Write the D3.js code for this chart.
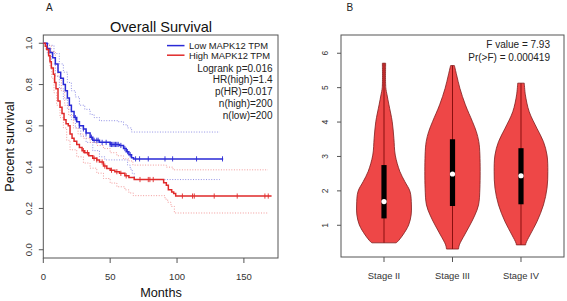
<!DOCTYPE html>
<html lang="en">
<head>
<meta charset="UTF-8" />
<title>MAPK12 survival and stage violins</title>
<script src="https://d3js.org/d3.v7.min.js"></script>
<style>
  body { margin: 0; background: #fff; }
  svg { display: block; font-family: "Liberation Sans", Arial, sans-serif; }
  .tick-label { fill: #333; }
  .frame { fill: none; stroke: #555; stroke-width: 1; }
  .tick { stroke: #555; stroke-width: 1; }
</style>
</head>
<body>
<div id="chart"></div>
<script>
// ---------- Panel A data (months, survival) ----------
const lowSurv = [[0,1],[3,0.975],[5,0.955],[7,0.93],[9,0.9],[11,0.86],[13,0.83],[15,0.8],[16.5,0.77],
  [18,0.735],[19.5,0.7],[21,0.67],[23,0.64],[25,0.62],[27,0.6],[30,0.585],[32,0.565],[35,0.545],
  [37,0.53],[42,0.52],[50,0.51],[57,0.505],[60,0.49],[62,0.475],[64,0.46],[66,0.445],[67.5,0.44],[134.5,0.44]];
const lowCensor = [24,27,30,32,36,38,40,41,44,47,50,51,52,53,54,55,56,58,61,63,65,69,72,78.5,91,96.7,114.6,134];
const lowUpper = [[0,1],[4,0.99],[8,0.95],[12,0.9],[15,0.86],[18,0.81],[21,0.77],[24,0.74],[27,0.7],[31,0.68],
  [35,0.655],[38,0.64],[42,0.625],[56,0.62],[60,0.605],[63,0.59],[66,0.57],[132,0.57]];
const lowLower = [[0,1],[3,0.95],[6,0.9],[9,0.84],[12,0.78],[15,0.73],[18,0.68],[21,0.63],[24,0.59],[28,0.55],
  [32,0.52],[37,0.48],[42,0.45],[46,0.435],[61,0.435],[63,0.41],[65,0.39],[66.5,0.37],[68,0.34],[132,0.34]];

const highSurv = [[0,1],[1.5,0.985],[2.5,0.97],[4,0.94],[5,0.91],[6,0.88],[7.5,0.85],[8.5,0.81],[9.5,0.78],
  [11,0.72],[12.5,0.69],[14,0.66],[15.5,0.63],[17,0.61],[18.7,0.6],[20,0.56],[21.5,0.54],[23,0.525],[25,0.51],
  [27,0.495],[29,0.48],[31,0.47],[34,0.455],[37,0.443],[40,0.435],[42,0.425],[45,0.405],[47.5,0.394],[50,0.385],
  [53.5,0.378],[57,0.37],[61,0.358],[64,0.35],[68,0.34],[88.5,0.34],[90,0.325],[92,0.312],[93.5,0.29],[96,0.28],
  [97.5,0.272],[99,0.26],[170.7,0.26]];
const highCensor = [30,33,38,40,44,46,51,55,58,62,72.3,78.5,79.7,82.2,104,111.6,112.9,127.8,145,165.7,168.2];
const highUpper = [[0,1],[3,0.99],[6,0.96],[9,0.9],[11,0.84],[13.5,0.77],[16,0.7],[19,0.65],[22.5,0.59],[26,0.56],
  [30,0.54],[35,0.52],[40,0.505],[45,0.49],[50,0.47],[55,0.455],[60,0.44],[64,0.43],[67,0.41],[88.5,0.41],
  [92,0.4],[97,0.387],[168,0.387]];
const highLower = [[0,1],[2,0.97],[3.7,0.945],[5,0.89],[6.3,0.83],[8,0.76],[10,0.7],[12.5,0.64],[15,0.59],
  [17.5,0.53],[20,0.484],[25,0.45],[30,0.42],[35,0.395],[40,0.371],[45,0.345],[50,0.323],[55,0.305],[61,0.29],
  [64,0.275],[67.3,0.262],[88.5,0.262],[91,0.245],[93,0.23],[95.5,0.21],[98,0.178],[168,0.174]];

const monthTicks = [0, 50, 100, 150];
const survTicks = [0, 0.2, 0.4, 0.6, 0.8, 1.0];
const legendLabels = ["Low MAPK12 TPM", "High MAPK12 TPM"];
const statLines = ["Logrank p=0.016", "HR(high)=1.4", "p(HR)=0.017", "n(high)=200", "n(low)=200"];

// ---------- Panel B data ----------
const stages = ["Stage II", "Stage III", "Stage IV"];
// density profiles: [expression, relative half-width]
const stage2Profile = [[0.49,0.44],[0.52,0.49],[0.72,0.69],[1.01,0.9],[1.3,0.99],[1.59,1.0],[1.98,0.95],
  [2.27,0.76],[2.56,0.58],[3.04,0.41],[3.53,0.36],[4.01,0.3],[4.5,0.18],[4.79,0.11],[5.0,0.065],[5.71,0.06]];
const stage3Profile = [[0.31,0.22],[0.43,0.25],[0.72,0.44],[1.01,0.64],[1.3,0.82],[1.59,0.95],[2.08,1.0],
  [3.04,1.0],[3.43,0.96],[3.72,0.87],[4.01,0.73],[4.5,0.47],[4.98,0.27],[5.37,0.15],[5.64,0.07]];
const stage4Profile = [[0.43,0.17],[0.48,0.18],[0.72,0.33],[1.1,0.58],[1.59,0.82],[2.08,0.95],[2.56,0.98],
  [3.04,0.95],[3.43,0.82],[3.82,0.58],[4.3,0.3],[4.79,0.16],[5.13,0.12]];
const stageQ1 = [1.2, 1.56, 1.61];
const stageMedian = [1.69, 2.49, 2.44];
const stageQ3 = [2.75, 3.5, 3.24];
const exprTicks = [1, 2, 3, 4, 5, 6];
const anovaLines = ["F value = 7.93", "Pr(>F) = 0.000419"];

const W = 567, H = 301;
const svg = d3.select("#chart").append("svg").attr("width", W).attr("height", H);

// ================= Panel A =================
const A = { left: 43.3, right: 278, top: 35, bottom: 258 };
const x = d3.scaleLinear().domain([0, 175.5]).range([A.left, A.right]);
const y = d3.scaleLinear().domain([-0.04, 1.04]).range([A.bottom, A.top]);

const gA = svg.append("g");
gA.append("text").attr("x", 46).attr("y", 10.5).attr("font-size", 10).attr("fill", "#222").text("A");
gA.append("text").attr("x", 161).attr("y", 31.5).attr("text-anchor", "middle")
  .attr("font-size", 14.6).attr("fill", "#111").text("Overall Survival");

gA.append("rect").attr("class", "frame")
  .attr("x", A.left).attr("y", A.top).attr("width", A.right - A.left).attr("height", A.bottom - A.top);

// axes
gA.selectAll(".xt").data(monthTicks).enter().append("line").attr("class", "tick")
  .attr("x1", d => x(d)).attr("x2", d => x(d)).attr("y1", A.bottom).attr("y2", A.bottom + 5);
gA.selectAll(".xl").data(monthTicks).enter().append("text").attr("class", "tick-label")
  .attr("x", d => x(d)).attr("y", 280).attr("text-anchor", "middle").attr("font-size", 9.5).text(d => d);
gA.selectAll(".yt").data(survTicks).enter().append("line").attr("class", "tick")
  .attr("x1", A.left - 4.5).attr("x2", A.left).attr("y1", d => y(d)).attr("y2", d => y(d));
gA.selectAll(".yl").data(survTicks).enter().append("text").attr("class", "tick-label")
  .attr("transform", d => `translate(31.5,${y(d)}) rotate(-90)`)
  .attr("text-anchor", "middle").attr("font-size", 9.5).text(d => d3.format(".1f")(d));
gA.append("text").attr("x", 161).attr("y", 297).attr("text-anchor", "middle")
  .attr("font-size", 12.7).attr("fill", "#111").text("Months");
gA.append("text").attr("transform", `translate(13.5,${(A.top + A.bottom) / 2}) rotate(-90)`)
  .attr("text-anchor", "middle").attr("font-size", 12.7).attr("fill", "#111").text("Percent survival");

const step = d3.line().curve(d3.curveStepAfter).x(d => x(d[0])).y(d => y(d[1]));
const survAt = (curve, t) => {
  const i = d3.bisector(d => d[0]).right(curve, t) - 1;
  return curve[Math.max(0, i)][1];
};

const groups = [
  { surv: lowSurv, up: lowUpper, lo: lowLower, cens: lowCensor, color: "#2a2ad6", ci: "#8686e2" },
  { surv: highSurv, up: highUpper, lo: highLower, cens: highCensor, color: "#e02a2a", ci: "#f09090" }
];
groups.forEach(g => {
  [g.up, g.lo].forEach(c => gA.append("path").attr("d", step(c)).attr("fill", "none")
    .attr("stroke", g.ci).attr("stroke-width", 0.9).attr("stroke-dasharray", "1,1.6"));
});
groups.forEach(g => {
  gA.append("path").attr("d", step(g.surv)).attr("fill", "none")
    .attr("stroke", g.color).attr("stroke-width", 1.5);
  gA.selectAll(null).data(g.cens).enter().append("line")
    .attr("x1", d => x(d)).attr("x2", d => x(d))
    .attr("y1", d => y(survAt(g.surv, d)) - 2.6).attr("y2", d => y(survAt(g.surv, d)) + 2.6)
    .attr("stroke", g.color).attr("stroke-width", 0.9);
});

// legend
legendLabels.forEach((t, i) => {
  const ly = 45.6 + i * 9.6;
  gA.append("line").attr("x1", 167).attr("x2", 184.5).attr("y1", ly).attr("y2", ly)
    .attr("stroke", groups[i].color).attr("stroke-width", 1.5);
  gA.append("text").attr("x", 189).attr("y", ly + 3.3).attr("font-size", 9.4).attr("fill", "#222").text(t);
});
statLines.forEach((t, i) => {
  gA.append("text").attr("x", 272.5).attr("y", 71.5 + i * 11.8).attr("text-anchor", "end")
    .attr("font-size", 10).attr("fill", "#222").text(t);
});

// ================= Panel B =================
const B = { left: 341, right: 564, top: 35, bottom: 257 };
const xb = d3.scalePoint().domain(stages).range([B.left, B.right]).padding(0.628);
const yb = d3.scaleLinear().domain([0.078, 6.53]).range([B.bottom, B.top]);
const wb = d3.scaleLinear().domain([0, 1]).range([0, xb.step() * 0.4]);

const gB = svg.append("g");
gB.append("text").attr("x", 346.5).attr("y", 10.5).attr("font-size", 10).attr("fill", "#222").text("B");
gB.append("rect").attr("class", "frame")
  .attr("x", B.left).attr("y", B.top).attr("width", B.right - B.left).attr("height", B.bottom - B.top);

gB.selectAll(".yt").data(exprTicks).enter().append("line").attr("class", "tick")
  .attr("x1", B.left - 4).attr("x2", B.left).attr("y1", d => yb(d)).attr("y2", d => yb(d));
gB.selectAll(".yl").data(exprTicks).enter().append("text").attr("class", "tick-label")
  .attr("transform", d => `translate(327.5,${yb(d)}) rotate(-90)`)
  .attr("text-anchor", "middle").attr("font-size", 8.5).text(d => d);
gB.selectAll(".xt").data(stages).enter().append("line").attr("class", "tick")
  .attr("x1", d => xb(d)).attr("x2", d => xb(d)).attr("y1", B.bottom).attr("y2", B.bottom + 5);
gB.selectAll(".xl").data(stages).enter().append("text").attr("class", "tick-label")
  .attr("x", d => xb(d)).attr("y", 278.5).attr("text-anchor", "middle").attr("font-size", 9.4).text(d => d);

anovaLines.forEach((t, i) => {
  gB.append("text").attr("x", 550).attr("y", 48 + i * 13).attr("text-anchor", "end")
    .attr("font-size", 10).attr("fill", "#222").text(t);
});

const profiles = [stage2Profile, stage3Profile, stage4Profile];
stages.forEach((s, i) => {
  const cx = xb(s), prof = profiles[i];
  const area = d3.area().curve(d3.curveCatmullRom.alpha(0.5))
    .y(d => yb(d[0])).x0(d => cx - wb(d[1])).x1(d => cx + wb(d[1]));
  gB.append("path").attr("d", area(prof))
    .attr("fill", "#ee4747").attr("stroke", "#7e1d1d").attr("stroke-width", 0.8);
  gB.append("line").attr("x1", cx).attr("x2", cx)
    .attr("y1", yb(prof[0][0])).attr("y2", yb(prof[prof.length - 1][0]))
    .attr("stroke", "#8a1010").attr("stroke-width", 1);
  gB.append("rect").attr("x", cx - 2.6).attr("width", 5.2)
    .attr("y", yb(stageQ3[i])).attr("height", yb(stageQ1[i]) - yb(stageQ3[i])).attr("fill", "#000");
  gB.append("circle").attr("cx", cx).attr("cy", yb(stageMedian[i])).attr("r", 2.6).attr("fill", "#fff");
});
</script>
</body>
</html>
